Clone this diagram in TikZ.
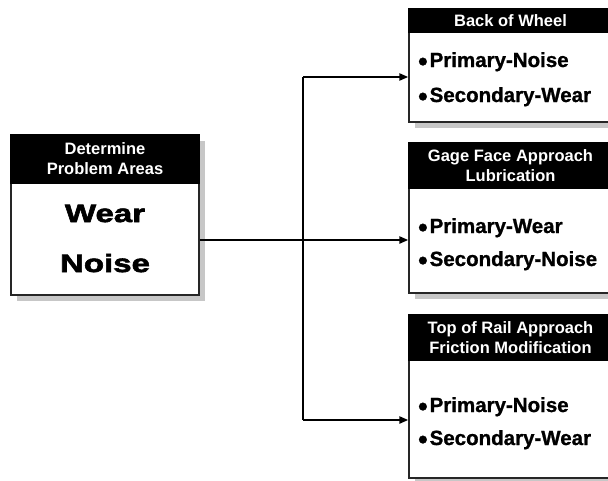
\documentclass[tikz,border=0pt]{standalone}
\usepackage{fontspec}
\setmainfont{Liberation Sans}
\newfontfamily\widefont[FakeStretch=1.32,FakeBold=2.5]{Liberation Sans Bold}
\newfontfamily\heavyfont[FakeBold=1]{Liberation Sans Bold}
\usetikzlibrary{arrows.meta,shadows}
\begin{document}
\begin{tikzpicture}[x=1pt,y=-1pt,
  box/.style={draw=black!85, line width=1.3pt, fill=white, inner sep=0pt,
    drop shadow={shadow xshift=6pt, shadow yshift=-6pt, fill=black!22, opacity=1}},
  hdr/.style={fill=black, draw=black, line width=1.3pt, text=white, inner sep=0pt, align=center,
    font=\bfseries\fontsize{16.5}{20}\selectfont, anchor=north},
  item/.style={anchor=base west, inner sep=0pt, font=\heavyfont\fontsize{20.5}{24}\selectfont},
  big/.style={anchor=base, inner sep=0pt, font=\widefont\fontsize{25}{30}\selectfont},
  conn/.style={line width=2.2pt, draw=black},
  arr/.style={conn, -{Triangle[length=9pt,width=7pt]}}]
\newcommand{\blt}{{\fontsize{27}{24}\selectfont\raisebox{-3.5pt}{•}}\hspace{2pt}}
\useasboundingbox (0,0) rectangle (608,480);
\clip (0,0) rectangle (608,480);
% left box
\node[box, minimum width=188pt, minimum height=160pt] (L) at (105,215) {};
\node[hdr, minimum width=188pt, minimum height=48pt] (Lh) at (L.north) {Determine\\Problem Areas};
\node[big] (Lw) at (105,222) {Wear};
\node[big] (Ln) at (105,272) {Noise};
% right boxes
\node[box, minimum width=203pt, minimum height=113pt] (T) at (510.5,65.5) {};
\node[hdr, minimum width=203pt, minimum height=23pt] (Th) at (T.north) {Back of Wheel};
\node[item] (T1) at (418,67) {\blt Primary-Noise};
\node[item] (T2) at (418,102) {\blt Secondary-Wear};
\node[box, minimum width=203pt, minimum height=150pt] (M) at (510.5,218) {};
\node[hdr, minimum width=203pt, minimum height=45pt] (Mh) at (M.north) {Gage Face Approach\\Lubrication};
\node[item] (M1) at (418,233) {\blt Primary-Wear};
\node[item] (M2) at (418,266) {\blt Secondary-Noise};
\node[box, minimum width=203pt, minimum height=163pt] (B) at (510.5,396.5) {};
\node[hdr, minimum width=203pt, minimum height=45pt] (Bh) at (B.north) {Top of Rail Approach\\Friction Modification};
\node[item] (B1) at (418,412) {\blt Primary-Noise};
\node[item] (B2) at (418,445) {\blt Secondary-Wear};
% connectors
\coordinate (jm) at (303,240);
\coordinate (jt) at (303,77);
\coordinate (jb) at (303,420);
\draw[conn] (L.east |- jm) -- (jm);
\draw[conn] (jt) -- (jb);
\draw[arr] (jt) -- (T.west |- jt);
\draw[arr] (jm) -- (M.west |- jm);
\draw[arr] (jb) -- (B.west |- jb);
\end{tikzpicture}
\end{document}
